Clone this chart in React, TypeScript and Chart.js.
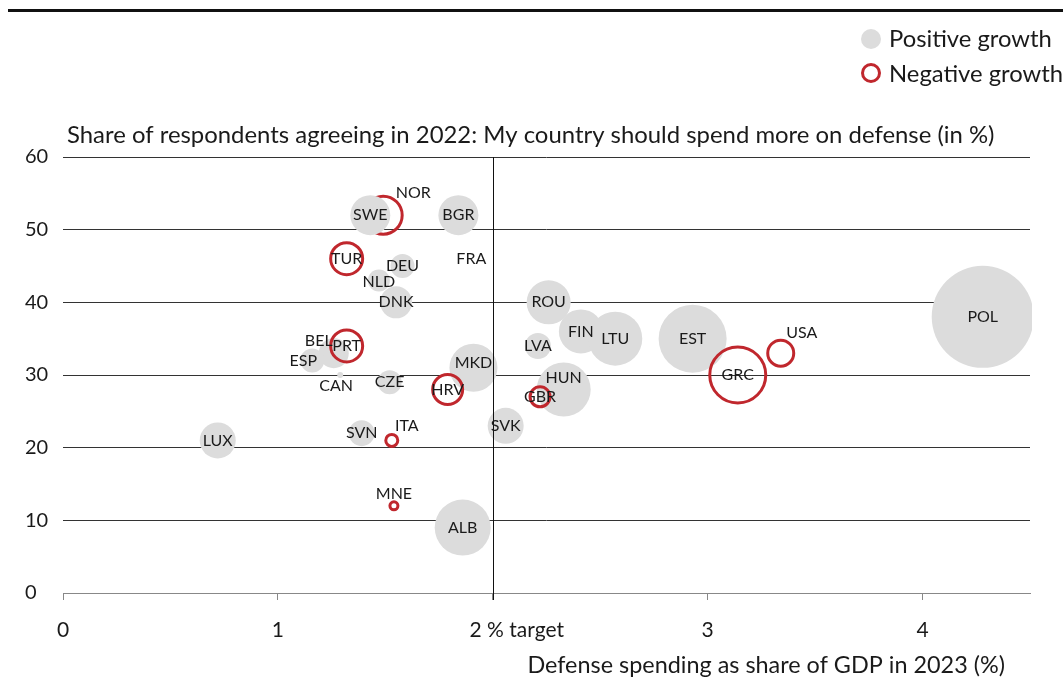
import React, { useEffect, useRef } from "react";
import { Chart, registerables } from "chart.js";

Chart.register(...registerables);

// ---------------- DATA ----------------
const countries = [
  "NOR", "SWE", "BGR", "TUR", "DEU", "NLD", "DNK", "FRA", "ROU", "FIN", "LTU",
  "LVA", "EST", "GRC", "USA", "POL", "HUN", "GBR", "MKD", "HRV", "CZE", "CAN",
  "BEL", "ESP", "PRT", "SVN", "ITA", "LUX", "MNE", "ALB", "SVK",
];
// Defense spending as share of GDP in 2023 (%)
const spendingGdp = [
  1.49, 1.43, 1.84, 1.32, 1.58, 1.47, 1.55, 1.9, 2.26, 2.41, 2.57,
  2.21, 2.93, 3.14, 3.34, 4.28, 2.33, 2.22, 1.91, 1.79, 1.52, 1.29,
  1.26, 1.16, 1.32, 1.39, 1.53, 0.72, 1.54, 1.86, 2.06,
];
// Share of respondents agreeing in 2022 (%)
const supportShare = [
  52, 52, 52, 46, 45, 43, 40, 46, 40, 36, 35,
  34, 35, 30, 33, 38, 28, 27, 31, 28, 29, 30,
  33, 32, 34, 22, 21, 21, 12, 9, 23,
];
// Bubble size (magnitude of growth)
const bubbleSize = [
  19, 20, 20, 16, 12, 11, 16, 0, 22, 22, 27,
  13, 34, 28, 13, 51, 27, 10, 24, 15, 12, 3,
  15, 12, 16, 13, 6, 18, 4, 28, 18,
];
// true = negative growth
const negativeGrowth = [
  true, false, false, true, false, false, false, false, false, false, false,
  false, false, true, true, false, false, true, false, true, false, false,
  false, false, true, false, true, false, true, false, false,
];
const xTickLabels = ["0", "1", "2 % target", "3", "4"];
const yTickValues = [0, 10, 20, 30, 40, 50, 60];

const legendLabels = ["Positive growth", "Negative growth"];
const subtitleText =
  "Share of respondents agreeing in 2022: My country should spend more on defense (in %)";
const xAxisTitle = "Defense spending as share of GDP in 2023 (%)";

// ---------------- STYLE ----------------
const FONT = "Lato, 'Noto Sans', sans-serif";
const GRAY = "#dcdcdc";
const RED = "#c0272d";
const TEXT = "#1a1a1a";
// label offsets (px) for labels not centred on their bubble
const labelShift: Record<string, [number, number]> = {
  NOR: [30, -22],
  USA: [21, -20],
  ITA: [15, -15],
  MNE: [0, -12],
  HUN: [0, -12],
  CAN: [-4, 11],
  BEL: [-15, -12],
  ESP: [-9, 0],
  MKD: [0, -5],
  NLD: [0, 1],
};
// horizontal shift (px) of x tick labels
const xTickShift = [0, 0, 24, 0, 0];

// font size so that text spans the given width
function fitSize(ctx: CanvasRenderingContext2D, text: string, width: number) {
  ctx.font = `20px ${FONT}`;
  const w = ctx.measureText(text).width;
  return (20 * width) / w;
}

const overlayPlugin = {
  id: "overlay",
  afterDatasetsDraw(chart: any) {
    const { ctx, scales } = chart;
    const xs = scales.x;
    const ys = scales.y;
    ctx.save();
    // 2% target line
    const x2 = Math.round(xs.getPixelForValue(2)) + 0.5;
    ctx.strokeStyle = "#111";
    ctx.lineWidth = 1;
    ctx.beginPath();
    ctx.moveTo(x2, ys.getPixelForValue(60));
    ctx.lineTo(x2, ys.getPixelForValue(0) + 7);
    ctx.stroke();

    // bubble labels
    ctx.font = `16px ${FONT}`;
    ctx.fillStyle = TEXT;
    ctx.textAlign = "center";
    ctx.textBaseline = "middle";
    countries.forEach((c, i) => {
      const px = xs.getPixelForValue(spendingGdp[i]);
      const py = ys.getPixelForValue(supportShare[i]);
      const s = labelShift[c] || [0, 0];
      ctx.fillText(c, px + s[0], py + s[1]);
    });
    ctx.restore();
  },
  afterDraw(chart: any) {
    const { ctx, scales } = chart;
    const xs = scales.x;
    ctx.save();
    // top rule
    ctx.fillStyle = "#111";
    ctx.fillRect(8, 9, 1063, 3);

    ctx.fillStyle = TEXT;
    ctx.textBaseline = "middle";

    // x tick labels
    ctx.textAlign = "center";
    ctx.font = `21px ${FONT}`;
    xTickLabels.forEach((t, i) => {
      ctx.fillText(t, xs.getPixelForValue(i) + xTickShift[i], 630);
    });

    // subtitle
    ctx.textAlign = "left";
    ctx.font = `${fitSize(ctx, subtitleText, 928)}px ${FONT}`;
    ctx.fillText(subtitleText, 67, 135);

    // x-axis title
    ctx.textAlign = "right";
    ctx.font = `${fitSize(ctx, xAxisTitle, 478)}px ${FONT}`;
    ctx.fillText(xAxisTitle, 1005, 665);

    // legend
    ctx.textAlign = "left";
    ctx.beginPath();
    ctx.arc(871, 39, 10, 0, Math.PI * 2);
    ctx.fillStyle = GRAY;
    ctx.fill();
    ctx.beginPath();
    ctx.arc(871, 73, 8.5, 0, Math.PI * 2);
    ctx.strokeStyle = RED;
    ctx.lineWidth = 3;
    ctx.stroke();
    ctx.fillStyle = TEXT;
    ctx.font = `${fitSize(ctx, legendLabels[0], 163)}px ${FONT}`;
    ctx.fillText(legendLabels[0], 889, 39);
    ctx.fillText(legendLabels[1], 889, 74);
    ctx.restore();
  },
};

export default function App() {
  const canvasRef = useRef<HTMLCanvasElement | null>(null);

  useEffect(() => {
    document.body.style.margin = "0";
    const canvas = canvasRef.current;
    if (!canvas) return;
    const points = countries.map((c, i) => ({
      x: spendingGdp[i],
      y: supportShare[i],
      r: bubbleSize[i],
    }));
    const chart = new Chart(canvas, {
      type: "bubble",
      data: {
        labels: countries,
        datasets: [
          {
            data: points,
            backgroundColor: (ctx: any) =>
              negativeGrowth[ctx.dataIndex] ? "rgba(255,255,255,0)" : GRAY,
            borderColor: (ctx: any) => (negativeGrowth[ctx.dataIndex] ? RED : GRAY),
            borderWidth: (ctx: any) => (negativeGrowth[ctx.dataIndex] ? 3 : 0),
            clip: { left: 100, top: 100, right: 2, bottom: 100 } as any,
          },
        ],
      },
      options: {
        animation: false,
        responsive: true,
        maintainAspectRatio: false,
        events: [],
        layout: {
          autoPadding: false,
          padding: { top: 157, left: 25, right: 33, bottom: 0 },
        },
        plugins: {
          legend: { display: false },
          tooltip: { enabled: false },
          title: { display: false },
        },
        scales: {
          x: {
            type: "linear",
            min: 0,
            max: 4.5,
            afterFit: (s: any) => {
              s.height = 84;
            },
            afterBuildTicks: (s: any) => {
              s.ticks = xTickLabels.map((_, i) => ({ value: i }));
            },
            ticks: { display: false },
            grid: {
              drawOnChartArea: false,
              drawTicks: true,
              tickLength: 7,
              color: "#888",
            },
            border: { display: true, color: "#888" },
          },
          y: {
            type: "linear",
            min: 0,
            max: 60,
            afterFit: (s: any) => {
              s.width = 38;
            },
            afterBuildTicks: (s: any) => {
              s.ticks = yTickValues.map((v) => ({ value: v }));
            },
            ticks: {
              crossAlign: "far",
              padding: 0,
              color: TEXT,
              font: { family: FONT, size: 20 },
            },
            grid: {
              drawTicks: false,
              color: (ctx: any) => (ctx.tick && ctx.tick.value === 0 ? "#888" : "#333"),
            },
            border: { display: false },
          },
        },
      },
      plugins: [overlayPlugin],
    });
    return () => chart.destroy();
  }, []);

  return (
    <div style={{ position: "relative", width: 1063, height: 677 }}>
      <canvas ref={canvasRef} />
    </div>
  );
}
